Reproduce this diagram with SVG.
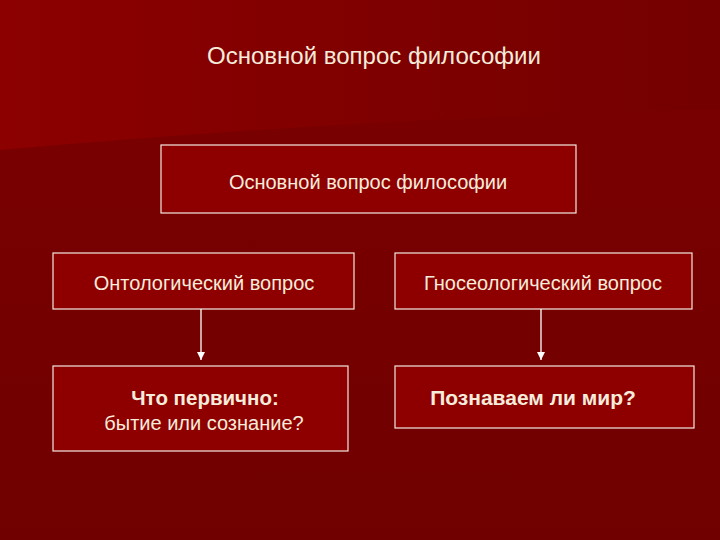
<svg xmlns="http://www.w3.org/2000/svg" width="720" height="540" viewBox="0 0 720 540">
<defs>
<linearGradient id="bgTop" x1="0" y1="0" x2="1" y2="0">
<stop offset="0" stop-color="#8c0000"/>
<stop offset="1" stop-color="#740000"/>
</linearGradient>
<linearGradient id="bgBot" x1="0" y1="0" x2="0" y2="1">
<stop offset="0" stop-color="#7c0000"/>
<stop offset="1" stop-color="#700000"/>
</linearGradient>
<marker id="arr" viewBox="0 0 10 10" refX="10" refY="5" markerWidth="8" markerHeight="8" markerUnits="userSpaceOnUse" orient="auto">
<path d="M0,0 L10,5 L0,10 Z" fill="#ffffff"/>
</marker>
<style>
.box{fill:#8e0000;stroke:#f4e8e0;stroke-width:1.2}
.t{font-family:"Liberation Sans",Arial,sans-serif;fill:#f6ecdc;text-anchor:middle}
.c{stroke:#ffffff;stroke-width:1.3;fill:none}
</style>
</defs>
<rect width="720" height="540" fill="url(#bgBot)"/>
<path d="M0,0 H720 V110 Q400,115 0,150 Z" fill="url(#bgTop)"/>
<text class="t" x="374" y="64" font-size="24">Основной вопрос философии</text>
<g id="root"><rect class="box" x="161" y="145" width="415" height="68"/><text class="t" x="368" y="189" font-size="20">Основной вопрос философии</text></g>
<g id="onto"><rect class="box" x="53" y="253" width="301" height="56"/><text class="t" x="204" y="290" font-size="20">Онтологический вопрос</text></g>
<g id="gnoseo"><rect class="box" x="395" y="253" width="297" height="56"/><text class="t" x="543" y="290" font-size="20">Гносеологический вопрос</text></g>
<g id="first"><rect class="box" x="53" y="366" width="295" height="85"/><text class="t" x="205" y="405" font-size="20.5" font-weight="bold">Что первично:</text><text class="t" x="204" y="430" font-size="20">бытие или сознание?</text></g>
<g id="know"><rect class="box" x="395" y="366" width="299" height="62"/><text class="t" x="533" y="405" font-size="21" font-weight="bold">Познаваем ли мир?</text></g>
<g id="connectors">
<line class="c" x1="201" y1="309" x2="201" y2="360" marker-end="url(#arr)"/>
<line class="c" x1="541" y1="309" x2="541" y2="360" marker-end="url(#arr)"/>
</g>
</svg>
